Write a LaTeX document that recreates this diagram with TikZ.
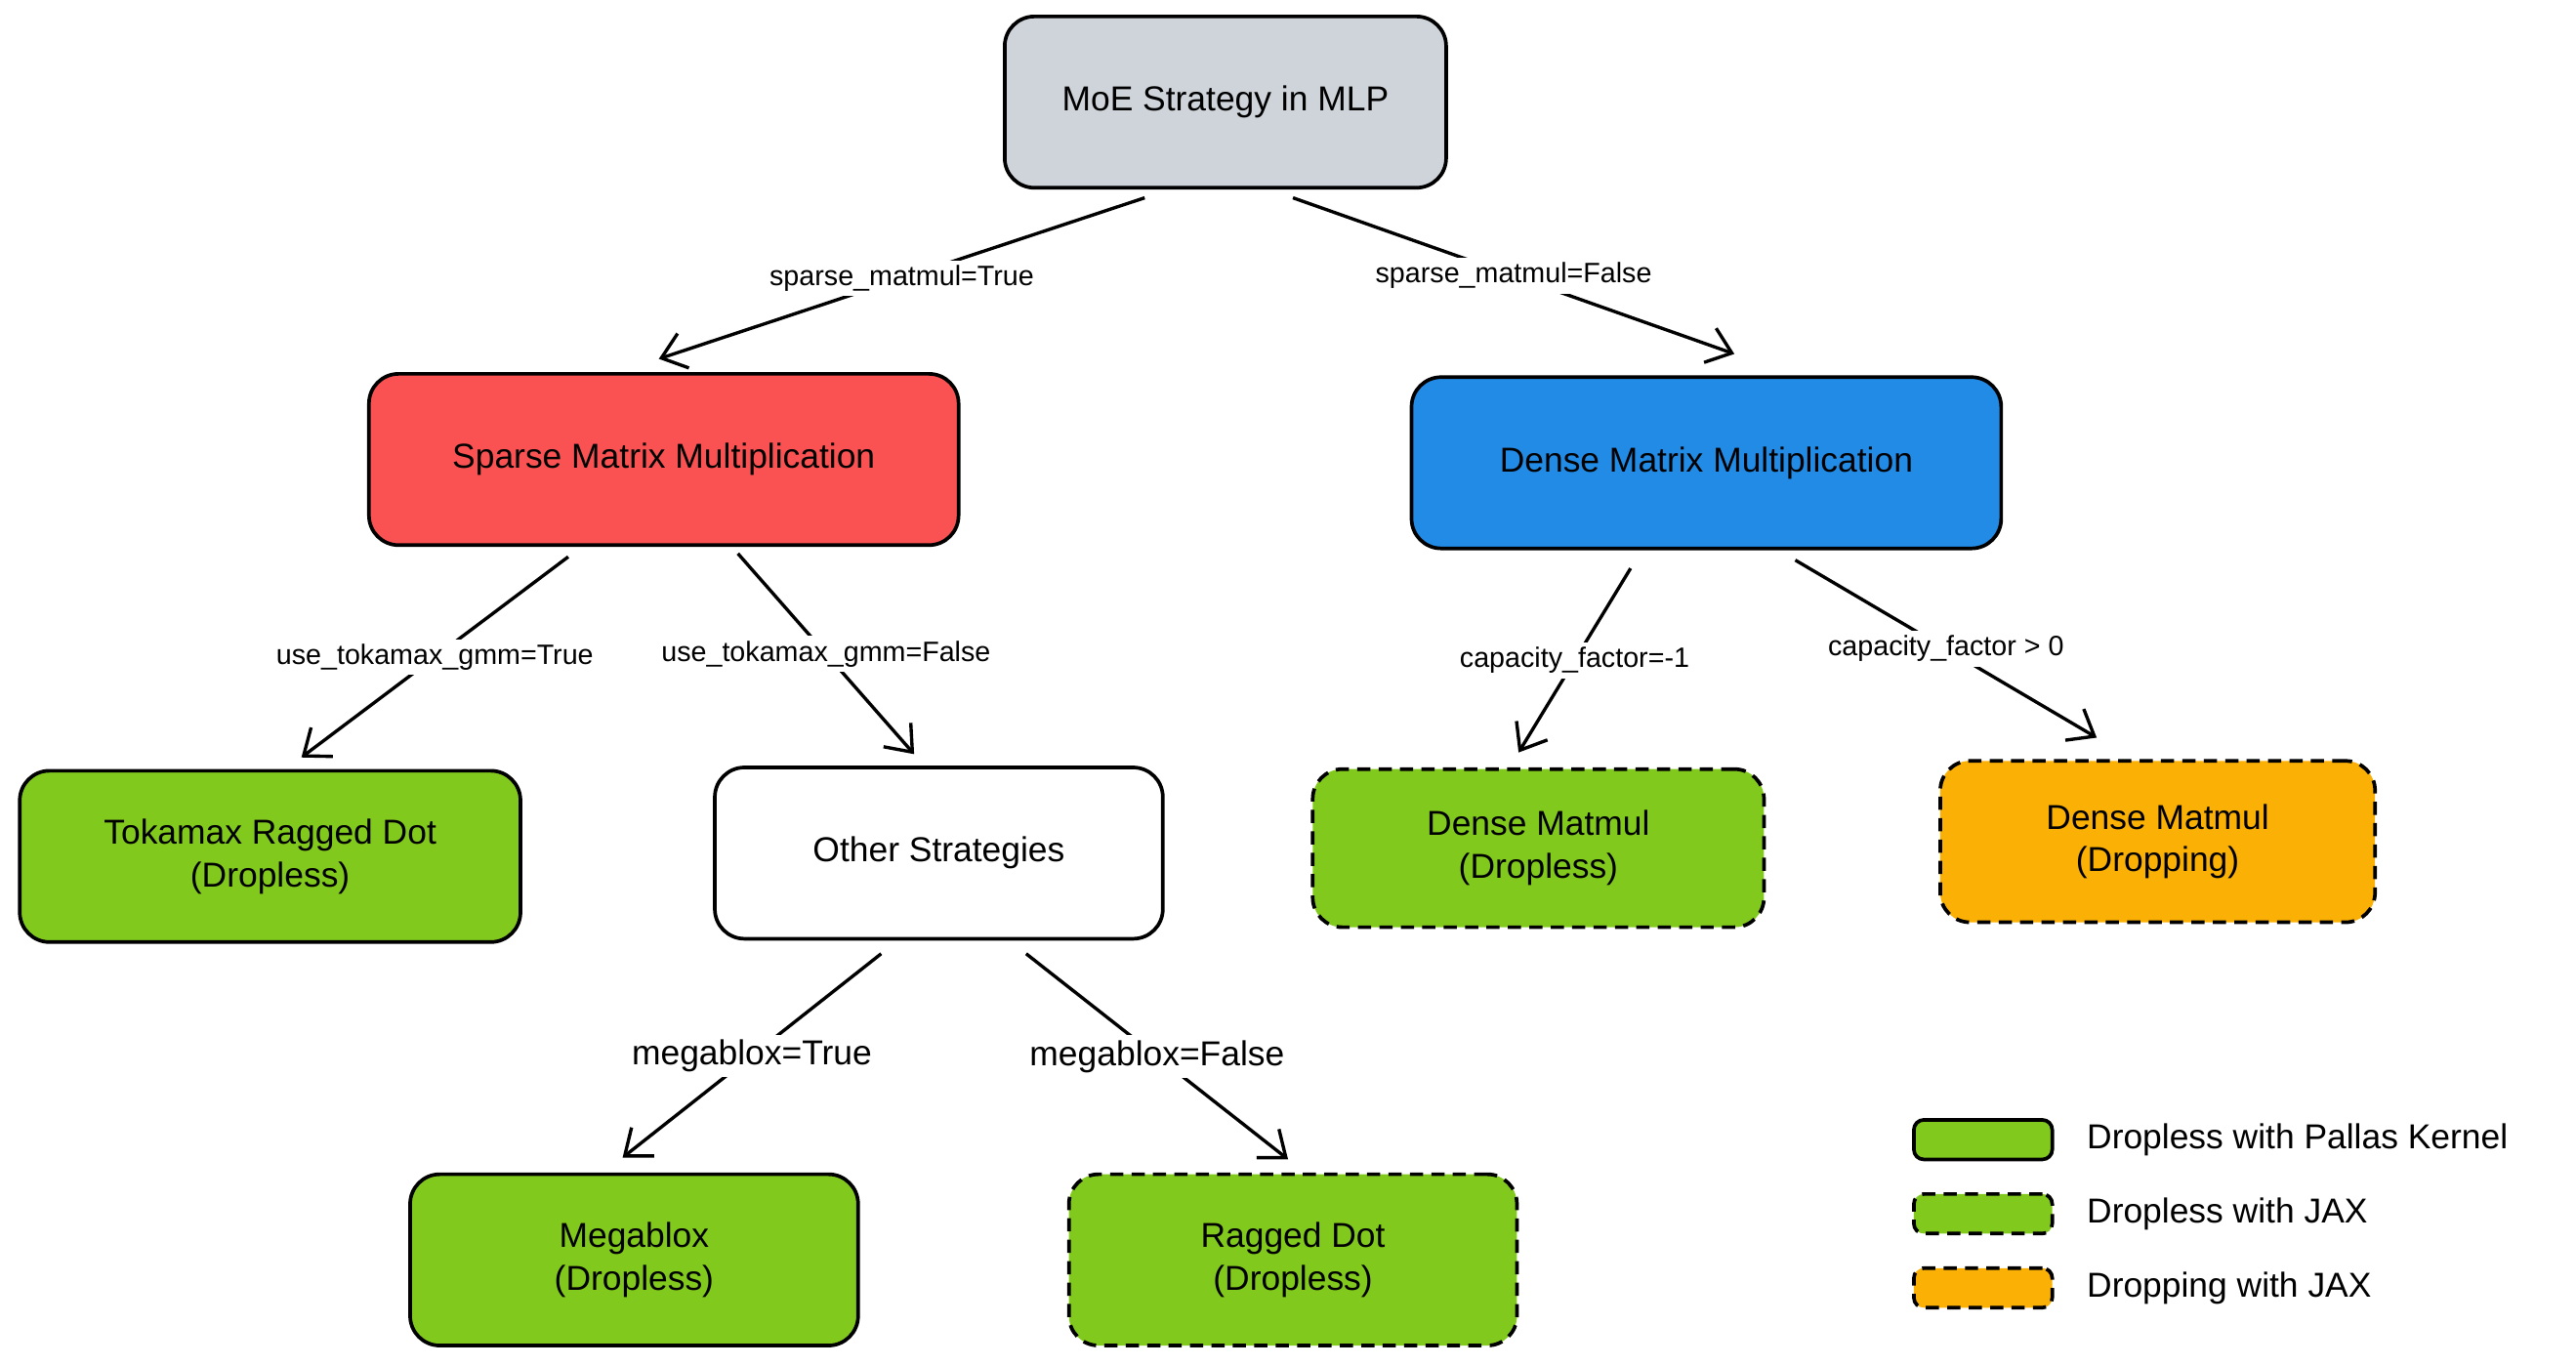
\documentclass[tikz,border=0pt]{standalone}
\usepackage{fontspec}
\setmainfont{Liberation Sans}
\usetikzlibrary{arrows.meta,calc}
\definecolor{moegray}{HTML}{CED4DA}
\definecolor{moered}{HTML}{FA5252}
\definecolor{moeblue}{HTML}{228BE6}
\definecolor{moegreen}{HTML}{82C91E}
\definecolor{moeorange}{HTML}{FAB005}
\tikzset{
  box/.style={draw,line width=1.1pt,rounded corners=9pt,align=center,
    minimum width=134pt,minimum height=52pt,font=\fontsize{10.5}{13}\selectfont},
  dashbox/.style={box,dash pattern=on 4pt off 2.5pt},
  edge/.style={line width=1pt,-{Straight Barb[length=7pt,width=11pt]}},
  elabel/.style={fill=white,inner sep=1.5pt,font=\fontsize{8.5}{10}\selectfont},
  biglabel/.style={elabel,font=\fontsize{10.5}{12}\selectfont},
  legbox/.style={draw,line width=1.1pt,rounded corners=3pt,minimum width=42pt,minimum height=12pt,fill=moegreen},
  legtext/.style={anchor=west,font=\fontsize{10.5}{12}\selectfont}
}
\begin{document}
\begin{tikzpicture}[x=0.5pt,y=-0.5pt]
\useasboundingbox (0,0) rectangle (1564,829);

% nodes
\node[box,fill=moegray] (root) at (744,62) {MoE Strategy in MLP};
\node[box,fill=moered,minimum width=179pt] (sparse) at (403,279) {Sparse Matrix Multiplication};
\node[box,fill=moeblue,minimum width=179pt] (dense) at (1036,281) {Dense Matrix Multiplication};
\node[box,fill=moegreen,minimum width=152pt] (tokamax) at (164,520) {Tokamax Ragged Dot\\(Dropless)};
\node[box,fill=white,minimum width=136pt] (other) at (570,518) {Other Strategies};
\node[dashbox,fill=moegreen,minimum width=137pt,minimum height=48pt] (densedropless) at (934,515) {Dense Matmul\\(Dropless)};
\node[dashbox,fill=moeorange,minimum width=132pt,minimum height=49pt] (densedropping) at (1310,511) {Dense Matmul\\(Dropping)};
\node[box,fill=moegreen,minimum width=136pt] (megablox) at (385,765) {Megablox\\(Dropless)};
\node[dashbox,fill=moegreen,minimum width=136pt] (ragged) at (785,765) {Ragged Dot\\(Dropless)};

% edges
\draw[edge] ($(root.south)+(-49,5)$) -- node[elabel]{sparse\_matmul=True} ($(sparse.north)+(-3,-8)$);
\draw[edge] ($(root.south)+(41,5)$) -- node[elabel]{sparse\_matmul=False} ($(dense.north)+(17,-13)$);
\draw[edge] ($(sparse.south)+(-58,6)$) -- node[elabel]{use\_tokamax\_gmm=True} ($(tokamax.north)+(19,-7)$);
\draw[edge] ($(sparse.south)+(45,4)$) -- node[elabel]{use\_tokamax\_gmm=False} ($(other.north)+(-15,-7)$);
\draw[edge] ($(dense.south)+(-46,11)$) -- node[elabel]{capacity\_factor=-1} ($(densedropless.north)+(-12,-9)$);
\draw[edge] ($(dense.south)+(54,6)$) -- node[elabel]{capacity\_factor > 0} ($(densedropping.north)+(-37,-13)$);
\draw[edge] ($(other.south)+(-35,8)$) -- node[biglabel]{megablox=True} ($(megablox.north)+(-7,-9)$);
\draw[edge] ($(other.south)+(53,8)$) -- node[biglabel]{megablox=False} ($(ragged.north)+(-3,-8)$);

% legend
\node[legbox] (leg1) at (1204,692) {};
\node[legbox,dash pattern=on 4pt off 2.5pt] (leg2) at (1204,737) {};
\node[legbox,dash pattern=on 4pt off 2.5pt,fill=moeorange] (leg3) at (1204,782) {};
\node[legtext] at (1260,692) {Dropless with Pallas Kernel};
\node[legtext] at (1260,737) {Dropless with JAX};
\node[legtext] at (1260,782) {Dropping with JAX};
\end{tikzpicture}
\end{document}
